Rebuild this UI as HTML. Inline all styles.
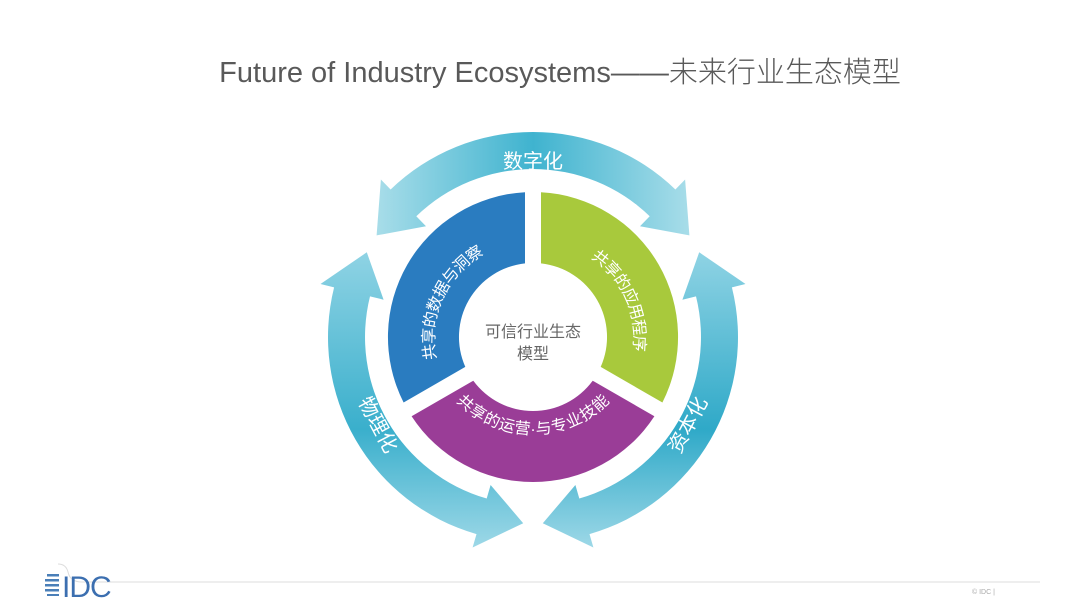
<!DOCTYPE html>
<html><head><meta charset="utf-8">
<style>
body{margin:0;width:1080px;height:607px;background:#fff;overflow:hidden;position:relative;font-family:"Liberation Sans","Noto Sans CJK SC",sans-serif}
.title{position:absolute;left:0;width:1080px;top:49px;text-align:center;font-size:29px;color:#595959;font-family:"Liberation Sans","Noto Sans CJK SC",sans-serif;font-weight:300;padding-left:40px;box-sizing:border-box}
</style></head><body>
<div class="title">Future of Industry Ecosystems——未来行业生态模型</div>
<svg id="s" width="1080" height="607" style="position:absolute;left:0;top:0">
<defs>
<linearGradient id="gt" x1="0" y1="0" x2="1" y2="0"><stop offset="0" stop-color="#a8dde9"/><stop offset="0.5" stop-color="#3fb3cf"/><stop offset="1" stop-color="#a8dde9"/></linearGradient>
<linearGradient id="gl" x1="0" y1="0" x2="0" y2="1"><stop offset="0" stop-color="#8fd3e4"/><stop offset="0.6" stop-color="#3aafcc"/><stop offset="1" stop-color="#9dd8e7"/></linearGradient>
<linearGradient id="gr" x1="0" y1="0" x2="0" y2="1"><stop offset="0" stop-color="#8fd3e4"/><stop offset="0.6" stop-color="#2fa9c8"/><stop offset="1" stop-color="#9dd8e7"/></linearGradient>
<path id="pb" d="M 450.3 398.6 A 100 100 0 0 1 523 238.5"/>
<path id="pg" d="M 545 238.5 A 100 100 0 0 1 618 398.6"/>
<path id="pp" d="M 440 370 A 102 102 0 0 0 626 370"/>
</defs>
<g id="arcs"></g>
<g id="segs"></g>
<g font-size="16" fill="#fff" font-family="Liberation Sans,Noto Sans CJK SC,sans-serif">
<text><textPath href="#pb" startOffset="50%" text-anchor="middle" dominant-baseline="middle">共享的数据与洞察</textPath></text>
<text><textPath href="#pg" startOffset="50%" text-anchor="middle" dominant-baseline="middle">共享的应用程序</textPath></text>
<text><textPath href="#pp" startOffset="50%" text-anchor="middle" dominant-baseline="middle">共享的运营·与专业技能</textPath></text>
</g>
<text x="533" y="337" font-size="16" fill="#666" text-anchor="middle">可信行业生态</text>
<text x="533" y="359" font-size="16" fill="#666" text-anchor="middle">模型</text>
<g font-size="20" fill="#fff">
<text x="533" y="168" text-anchor="middle">数字化</text>
<text transform="translate(372,428) rotate(62)" text-anchor="middle">物理化</text>
<text transform="translate(694,428) rotate(-62)" text-anchor="middle">资本化</text>
</g>
<path d="M58 564 Q 66 564 68 572 Q 70 582 82 582 L 1040 582" fill="none" stroke="#ddd" stroke-width="1"/>
<g fill="#4a7fb8"><rect x="47" y="574" width="12" height="2.5"/><rect x="45" y="579" width="14" height="2.5"/><rect x="45" y="584" width="14" height="2.5"/><rect x="45" y="589" width="14" height="2.5"/><rect x="47" y="594" width="12" height="2"/></g>
<text x="62" y="597" font-size="30" fill="#3c6fb0" style="letter-spacing:-1px">IDC</text>
<text x="972" y="594" font-size="7" fill="#aaa">© IDC |</text>
</svg>
<script>
var cx=533,cy=337;
function P(r,a){a=a*Math.PI/180;return [(cx+r*Math.cos(a)).toFixed(1),(cy-r*Math.sin(a)).toFixed(1)];}
function arrow(a1,a2,fill){
 var ri=168,ro=205,hi=154,ho=219,rm=186.5,h=13;
 var b1=a1+h,b2=a2-h;
 var d="M"+P(ro,b1)+" A"+ro+" "+ro+" 0 0 0 "+P(ro,b2)+" L"+P(ho,b2)+" L"+P(rm,a2)+" L"+P(hi,b2)+" L"+P(ri,b2)+" A"+ri+" "+ri+" 0 0 1 "+P(ri,b1)+" L"+P(hi,b1)+" L"+P(rm,a1)+" L"+P(ho,b1)+"Z";
 return '<path d="'+d+'" fill="'+fill+'"/>';
}
document.getElementById('arcs').innerHTML=arrow(33,147,'url(#gt)')+arrow(153,267,'url(#gl)')+arrow(273,387,'url(#gr)');
function seg(a1,a2,col){
 var R=145,r=74,gap=8;
 var A1=a1+Math.asin(gap/R)*180/Math.PI,A2=a2-Math.asin(gap/R)*180/Math.PI;
 var B1=a1+Math.asin(gap/r)*180/Math.PI,B2=a2-Math.asin(gap/r)*180/Math.PI;
 var d="M"+P(R,A1)+" A"+R+" "+R+" 0 0 0 "+P(R,A2)+" L"+P(r,B2)+" A"+r+" "+r+" 0 0 1 "+P(r,B1)+"Z";
 return '<path d="'+d+'" fill="'+col+'"/>';
}
document.getElementById('segs').innerHTML=seg(90,210,'#2a7cc0')+seg(-30,90,'#a8c93c')+seg(210,330,'#9a3d97');
</script>
</body></html>
